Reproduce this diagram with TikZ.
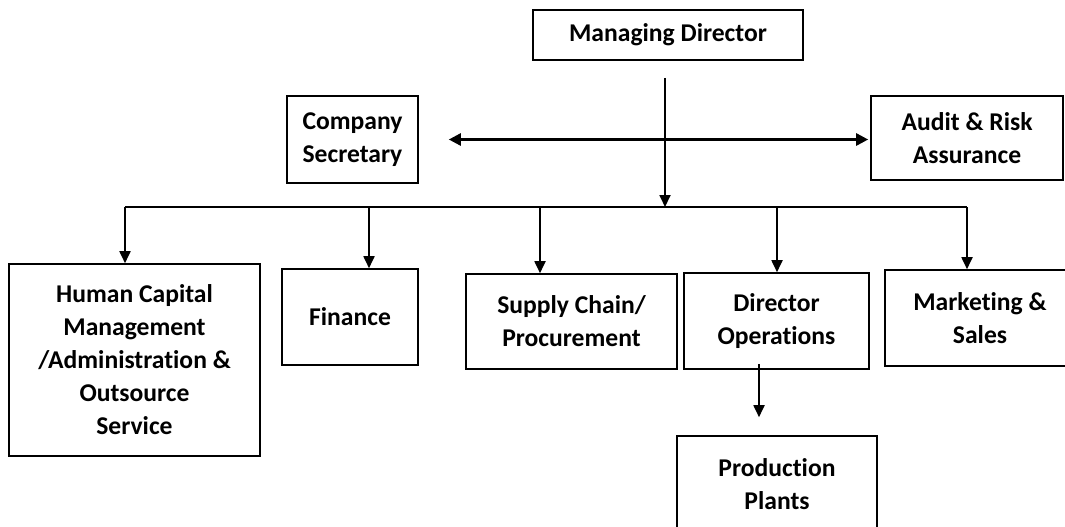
\documentclass[tikz,border=0pt]{standalone}
\usepackage{fontspec}
\setmainfont{Carlito}[Ligatures=NoCommon]
\usetikzlibrary{arrows.meta}
\begin{document}
\begin{tikzpicture}[x=0.5pt,y=-0.5pt,
    unit/.style={draw,line width=0.8pt,align=center,inner sep=0pt,
      font=\fontsize{12.8}{16.5}\selectfont\bfseries},
    link/.style={line width=0.9pt,-{Triangle[length=6pt,width=5.5pt]}}]
  \useasboundingbox (0,0) rectangle (1065,526);
  \node[unit,minimum width=135pt,minimum height=25pt] (md) at (668,35) {Managing Director};
  \node[unit,minimum width=65.5pt,minimum height=43.5pt] (cs) at (352.5,139.5) {Company\\Secretary};
  \node[unit,minimum width=96pt,minimum height=42pt] (ara) at (967,138) {Audit \& Risk\\Assurance};
  \node[unit,minimum width=125.5pt,minimum height=96pt] (hcm) at (134.5,360) {Human Capital\\Management\\/Administration \&\\Outsource\\Service};
  \node[unit,minimum width=68pt,minimum height=48pt] (fin) at (350,317) {Finance};
  \node[unit,minimum width=105.5pt,minimum height=47.5pt] (scp) at (571.5,321.5) {Supply Chain/\\Procurement};
  \node[unit,minimum width=92.5pt,minimum height=48pt] (ops) at (776.5,321) {Director\\Operations};
  \node[unit,minimum width=95pt,minimum height=48pt] (mks) at (980,318) {Marketing \&\\Sales};
  \node[unit,minimum width=100pt,minimum height=48pt] (pp) at (777,484) {Production\\Plants};
  \coordinate (bar) at (665,207);
  \coordinate (d1) at (125,207);
  \coordinate (d2) at (369,207);
  \coordinate (d3) at (540,207);
  \coordinate (d4) at (777,207);
  \coordinate (d5) at (967,207);
  \draw[link,shorten <=8.5pt] (md.south -| bar) -- (bar);
  \draw[line width=1.3pt,{Triangle[length=6pt,width=6pt]}-{Triangle[length=6pt,width=6pt]},shorten <=15pt,shorten >=1pt] (cs.east) -- (cs.east -| ara.west);
  \draw[line width=1.3pt] (d1) -- (d5);
  \draw[link] (d1) -- (d1 |- hcm.north);
  \draw[link] (d2) -- (d2 |- fin.north);
  \draw[link] (d3) -- (d3 |- scp.north);
  \draw[link] (d4) -- (d4 |- ops.north);
  \draw[link] (d5) -- (d5 |- mks.north);
  \draw[link,shorten <=-3pt,shorten >=9pt] ([xshift=-8.75pt]ops.south) -- ([xshift=-8.75pt]ops.south |- pp.north);
\end{tikzpicture}
\end{document}
